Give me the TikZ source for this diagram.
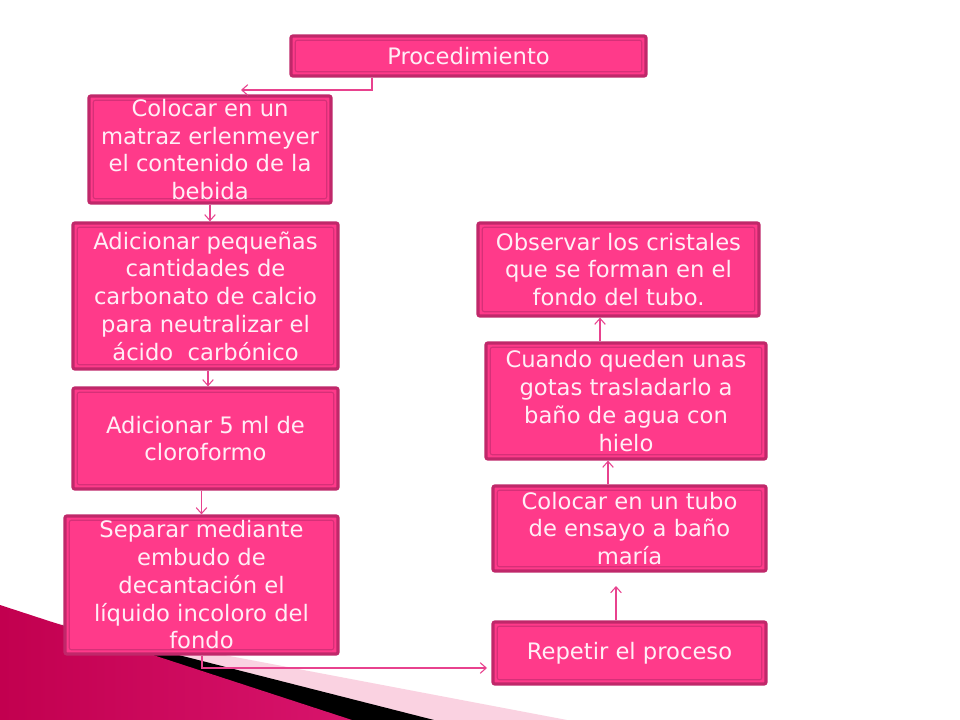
\documentclass[tikz,border=0pt]{standalone}
\usepackage{fontspec}
\setmainfont{DejaVu Sans}
\usetikzlibrary{positioning,arrows.meta}
\definecolor{boxfill}{HTML}{FF3A8A}
\definecolor{boxedge}{HTML}{C0286A}
\definecolor{boxline}{HTML}{D63078}
\definecolor{linkc}{HTML}{E8428E}
\definecolor{textc}{HTML}{FFEEF6}
\definecolor{swdark}{HTML}{C2004F}
\definecolor{swlight}{HTML}{F2609F}
\definecolor{swmid}{HTML}{D8146C}
\definecolor{palepink}{HTML}{FAD2E1}

\begin{document}
\begin{tikzpicture}[x=0.75pt, y=-0.75pt,
    stepbox/.style={draw=boxedge, line width=2.4pt, fill=boxfill, rounded corners=1.5pt,
        text=textc, align=center, font=\fontsize{17}{20.8}\selectfont, inner sep=0pt,
        path picture={\draw[boxline, line width=0.8pt]
            ([shift={(3.2pt,-3.2pt)}]path picture bounding box.north west) rectangle
            ([shift={(-3.2pt,3.2pt)}]path picture bounding box.south east);}},
    link/.style={linkc, line width=0.8pt, -{Straight Barb[length=4.5pt,width=8pt]}}]
    \fill[white] (0,0) rectangle (960,720);
    \useasboundingbox (0,0) rectangle (960,720);
    \fill[palepink] (45,621) -- (567,720) -- (45,720) -- cycle;
    \fill[black] (45,621) -- (434,720) -- (0,720) -- cycle;
    \shade[left color=swdark, middle color=swlight, right color=swmid] (0,605) -- (352,720) -- (0,720) -- cycle;
    \node[stepbox, minimum width=266.25pt, minimum height=30pt] (proc) at (468.5,56) {Procedimiento};
    \node[stepbox, minimum width=181.5pt, minimum height=80.25pt] (b1) at (210,149.5) {Colocar en un\\matraz erlenmeyer\\el contenido de la\\bebida};
    \node[stepbox, minimum width=198.75pt, minimum height=109.5pt] (b2) at (205.5,296) {Adicionar pequeñas\\cantidades de\\carbonato de calcio\\para neutralizar el\\ácido\ \ carbónico};
    \node[stepbox, minimum width=198.75pt, minimum height=75.75pt] (b3) at (205.5,438.5) {Adicionar 5 ml de\\cloroformo};
    \node[stepbox, minimum width=204.75pt, minimum height=103.5pt] (b4) at (201.5,585) {Separar mediante\\embudo de\\decantación el\\líquido incoloro del\\fondo};
    \node[stepbox, minimum width=210.75pt, minimum height=69.75pt] (r1) at (618.5,269.5) {Observar los cristales\\que se forman en el\\fondo del tubo.};
    \node[stepbox, minimum width=210pt, minimum height=87pt] (r2) at (626,401) {Cuando queden unas\\gotas trasladarlo a\\baño de agua con\\hielo};
    \node[stepbox, minimum width=204.75pt, minimum height=63.75pt] (r3) at (629.5,528.5) {Colocar en un tubo\\de ensayo a baño\\maría};
    \node[stepbox, minimum width=204.75pt, minimum height=46.5pt] (r4) at (629.5,653) {Repetir el proceso};
    \coordinate (p1) at (372,90);
    \coordinate (p1end) at (241,90);
    \draw[link] (p1 |- proc.south) -- (p1) -- (p1end);
    \draw[link] (b1.south) -- (b1.south |- b2.north);
    \draw[link] (208,0 |- b2.south) -- (208,0 |- b3.north);
    \draw[link] (b4.north |- b3.south) -- (b4.north);
    \coordinate (q1) at (202,668);
    \coordinate (q1end) at (487,668);
    \draw[link] (q1 |- b4.south) -- (q1) -- (q1end);
    \coordinate (r4up) at (616,586);
    \draw[link] (r4up |- r4.north) -- (r4up);
    \draw[link] (608,0 |- r3.north) -- (608,0 |- r2.south);
    \draw[link] (600,0 |- r2.north) -- (600,0 |- r1.south);
\end{tikzpicture}
\end{document}
